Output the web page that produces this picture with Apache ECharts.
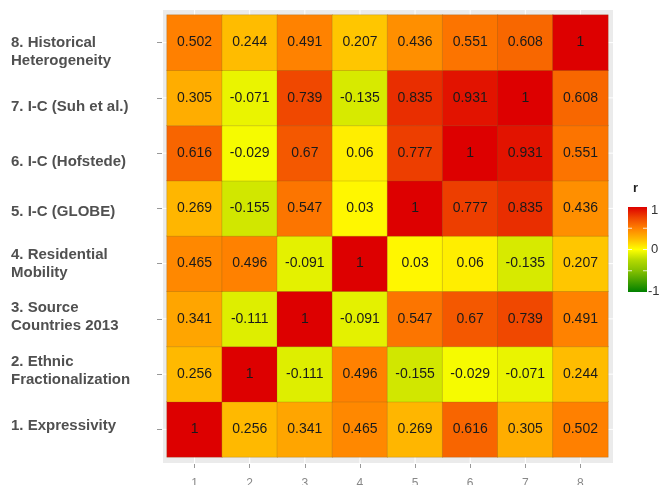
<!DOCTYPE html>
<html>
<head>
<meta charset="utf-8">
<script src="https://cdn.jsdelivr.net/npm/echarts@6/dist/echarts.min.js"></script>
<style>html,body{margin:0;padding:0;background:#fff;}#c{width:661px;height:485px;}</style>
</head>
<body>
<div id="c"></div>
<script>
var xLabels = ['1','2','3','4','5','6','7','8'];
var yLabels = ['1. Expressivity','2. Ethnic\nFractionalization','3. Source\nCountries 2013','4. Residential\nMobility','5. I-C (GLOBE)','6. I-C (Hofstede)','7. I-C (Suh et al.)','8. Historical\nHeterogeneity'];
var row1 = [1, 0.256, 0.341, 0.465, 0.269, 0.616, 0.305, 0.502];
var row2 = [0.256, 1, -0.111, 0.496, -0.155, -0.029, -0.071, 0.244];
var row3 = [0.341, -0.111, 1, -0.091, 0.547, 0.67, 0.739, 0.491];
var row4 = [0.465, 0.496, -0.091, 1, 0.03, 0.06, -0.135, 0.207];
var row5 = [0.269, -0.155, 0.547, 0.03, 1, 0.777, 0.835, 0.436];
var row6 = [0.616, -0.029, 0.67, 0.06, 0.777, 1, 0.931, 0.551];
var row7 = [0.305, -0.071, 0.739, -0.135, 0.835, 0.931, 1, 0.608];
var row8 = [0.502, 0.244, 0.491, 0.207, 0.436, 0.551, 0.608, 1];
var rows = [row1,row2,row3,row4,row5,row6,row7,row8];
var legendTicks = ['1','0','-1'];

var scaleColors = ['#008000','#44a000','#84c000','#b4d900','#ffff00','#ffba00','#ff8000','#ef4500','#dd0000'];
var labelShift = [-4,-3,-2,0,3,9,9,9];

var data = [];
rows.forEach(function(r, yi){ r.forEach(function(v, xi){ data.push([xi, yi, v]); }); });

var chart = echarts.init(document.getElementById('c'), null, {renderer:'canvas'});
var font = 'Liberation Sans, Arial, Helvetica, sans-serif';

var gradStops = scaleColors.slice().reverse().map(function(c,i,a){ return {offset:i/(a.length-1), color:c}; });

var barX = 628, barY = 207, barW = 19, barH = 85;
var graphics = [
  {type:'rect', z:0, shape:{x:163,y:10,width:450,height:453}, style:{fill:'#ebebeb'}},
  {type:'text', z:5, style:{text:'r', x:633, y:188, font:'bold 13px '+font, fill:'#222', verticalAlign:'middle'}},
  {type:'rect', z:5, shape:{x:barX,y:barY,width:barW,height:barH}, style:{fill:new echarts.graphic.LinearGradient(0,0,0,1,gradStops)}}
];
legendTicks.forEach(function(t,i){
  var yy = barY + barH * i / (legendTicks.length-1);
  graphics.push({type:'text', z:5, style:{text:t, x:(t.length>1?648:651), y:yy+ (i===0?3:(i===2?-1:0)), font:'13px '+font, fill:'#333', verticalAlign:'middle'}});
});
[0.25,0.5,0.75].forEach(function(f){
  var yy = barY + barH*f;
  graphics.push({type:'line', z:6, shape:{x1:barX,y1:yy,x2:barX+4,y2:yy}, style:{stroke:'rgba(255,255,255,0.8)', lineWidth:1}});
  graphics.push({type:'line', z:6, shape:{x1:barX+barW-4,y1:yy,x2:barX+barW,y2:yy}, style:{stroke:'rgba(255,255,255,0.8)', lineWidth:1}});
});

chart.setOption({
  animation:false,
  backgroundColor:'#fff',
  grid:{left:167, right:53, top:15, bottom:28, containLabel:false, outerBoundsMode:'none'},
  xAxis:{type:'category', data:xLabels, offset:7,
    axisLine:{show:false}, axisTick:{show:true, alignWithLabel:true, length:4, lineStyle:{color:'#999'}},
    axisLabel:{margin:14, color:'#888', fontSize:12, fontFamily:font},
    splitLine:{show:false}},
  yAxis:{type:'category', data:yLabels, offset:5,
    axisLine:{show:false}, axisTick:{show:true, alignWithLabel:true, length:5, lineStyle:{color:'#999'}},
    axisLabel:{margin:151, align:'left', fontFamily:font,
      formatter:function(v, idx){
        var lines = v.split('\n').map(function(l){ return '{a|'+l+'}'; });
        var s = labelShift[idx] || 0;
        if (s > 0) { lines.unshift('{s| }'); }
        if (s < 0) { lines.push('{s| }'); }
        var key = 's' + Math.abs(s);
        return lines.join('\n').replace('{s|', '{'+key+'|');
      },
      rich:{
        a:{fontSize:15, fontWeight:'bold', color:'#505050', lineHeight:18, fontFamily:font, align:'left'},
        s2:{fontSize:1, lineHeight:4}, s3:{fontSize:1, lineHeight:6}, s4:{fontSize:1, lineHeight:8}, s9:{fontSize:1, lineHeight:18}
      }},
    splitLine:{show:false}},
  visualMap:{show:false, type:'continuous', min:-1, max:1, dimension:2, inRange:{color:scaleColors}},
  series:[{type:'heatmap', data:data, z:3,
    label:{show:true, fontSize:14, color:'#1a1a1a', fontFamily:font, formatter:function(p){ return String(p.value[2]); }},
    itemStyle:{borderColor:'rgba(120,90,30,0.3)', borderWidth:0.8},
    emphasis:{disabled:true}}],
  graphic: graphics
});

var extra = [];
xLabels.forEach(function(l, i){
  var px = chart.convertToPixel({xAxisIndex:0}, i);
  extra.push({type:'line', z:1, silent:true, shape:{x1:px,y1:10,x2:px,y2:463}, style:{stroke:'#fff', lineWidth:1}});
});
yLabels.forEach(function(l, i){
  var py = chart.convertToPixel({yAxisIndex:0}, i);
  extra.push({type:'line', z:1, silent:true, shape:{x1:163,y1:py,x2:613,y2:py}, style:{stroke:'#fff', lineWidth:1}});
});
chart.setOption({graphic: graphics.concat(extra)});
</script>
</body>
</html>
